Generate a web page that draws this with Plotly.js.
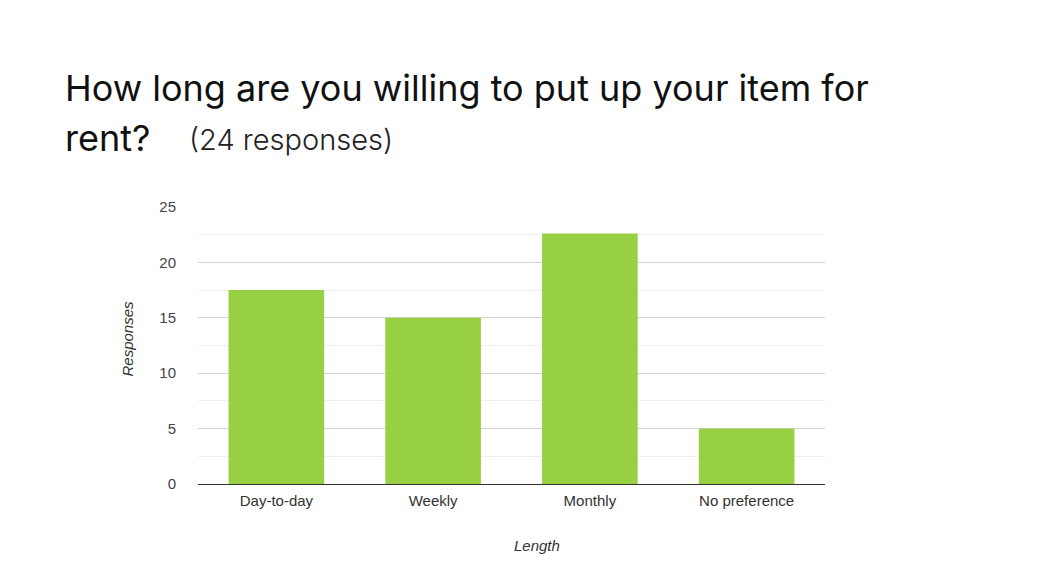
<!DOCTYPE html>
<html>
<head>
<meta charset="utf-8">
<script src="https://cdn.plot.ly/plotly-3.0.1.min.js"></script>
<style>
html,body{margin:0;padding:0;background:#fff;}
#chart{width:1040px;height:584px;}
</style>
</head>
<body>
<div id="chart"></div>
<script>
const categories = ["Day-to-day", "Weekly", "Monthly", "No preference"];
const responses = [17.5, 15, 22.6, 5];
const yTicks = [0, 5, 10, 15, 20, 25];
const titleLine1 = "How long are you willing to put up your item for";
const titleLine2 = "rent?";
const subtitle = "(24 responses)";
const xTitle = "Length";
const yTitle = "Responses";

const trace = {
  type: "bar",
  x: categories,
  y: responses,
  marker: {color: "#97d042"},
  hoverinfo: "x+y"
};

const layout = {
  width: 1040,
  height: 584,
  paper_bgcolor: "#ffffff",
  plot_bgcolor: "#ffffff",
  margin: {l: 198, r: 215, t: 207, b: 100},
  bargap: 0.39,
  showlegend: false,
  font: {family: "Liberation Sans, Arial, sans-serif", size: 15, color: "#444"},
  xaxis: {
    type: "category",
    showgrid: false,
    showline: false,
    ticks: "",
    ticklabelstandoff: 6,
    tickfont: {size: 15, color: "#333"}
  },
  yaxis: {
    range: [0, 25],
    tickvals: yTicks,
    showgrid: true,
    gridcolor: "#d3d3d3",
    gridwidth: 1,
    zeroline: true,
    zerolinecolor: "#333",
    zerolinewidth: 1,
    showline: false,
    ticks: "",
    ticklabelstandoff: 21,
    tickfont: {size: 15, color: "#444"},
    minor: {dtick: 2.5, showgrid: true, gridcolor: "#efefef", gridwidth: 1}
  },
  annotations: [
    {
      xref: "paper", yref: "paper", x: 0, y: 1,
      xshift: -135, yshift: 119,
      xanchor: "left", yanchor: "middle", align: "left",
      showarrow: false,
      text: titleLine1,
      font: {family: "Inter, sans-serif", size: 36, color: "#111"}
    },
    {
      xref: "paper", yref: "paper", x: 0, y: 1,
      xshift: -135, yshift: 69,
      xanchor: "left", yanchor: "middle", align: "left",
      showarrow: false,
      text: titleLine2,
      font: {family: "Inter, sans-serif", size: 36, color: "#111"}
    },
    {
      xref: "paper", yref: "paper", x: 0, y: 1,
      xshift: -11, yshift: 68,
      xanchor: "left", yanchor: "middle", align: "left",
      showarrow: false,
      text: subtitle,
      font: {family: "Inter, sans-serif", size: 29, weight: 300, color: "#222"}
    },
    {
      xref: "paper", yref: "paper", x: 0.5, y: 0,
      xshift: 25, yshift: -61, xanchor: "center", yanchor: "middle",
      showarrow: false,
      text: "<i>" + xTitle + "</i>",
      font: {size: 15, color: "#333"}
    },
    {
      xref: "paper", yref: "paper", x: 0, y: 0.5,
      xshift: -71, yshift: 7, xanchor: "center", yanchor: "middle",
      showarrow: false, textangle: -90,
      text: "<i>" + yTitle + "</i>",
      font: {size: 15, color: "#333"}
    }
  ]
};

Plotly.newPlot("chart", [trace], layout, {displayModeBar: false, staticPlot: true});
</script>
</body>
</html>
